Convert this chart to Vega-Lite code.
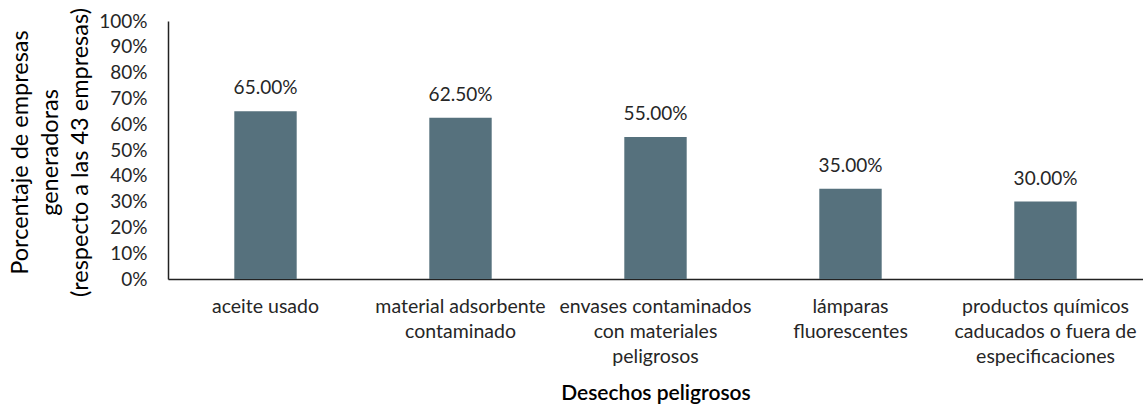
{
  "$schema": "https://vega.github.io/schema/vega-lite/v6.json",
  "autosize": "none",
  "width": 975,
  "height": 258,
  "padding": {"left": 168, "top": 21, "right": 0, "bottom": 126},
  "background": "white",
  "config": {
    "view": {"stroke": null},
    "font": "Lato",
    "axis": {"grid": false}
  },
  "data": {
    "values": [
      {"desecho": "aceite usado", "pct": 0.65},
      {"desecho": "material adsorbente contaminado", "pct": 0.625},
      {"desecho": "envases contaminados con materiales peligrosos", "pct": 0.55},
      {"desecho": "lámparas fluorescentes", "pct": 0.35},
      {"desecho": "productos químicos caducados o fuera de especificaciones", "pct": 0.30}
    ]
  },
  "encoding": {
    "x": {
      "field": "desecho",
      "type": "nominal",
      "sort": null,
      "scale": {"paddingInner": 0.68, "paddingOuter": 0.34},
      "axis": {
        "title": "Desechos peligrosos",
        "titleFont": "Lato",
        "titleFontSize": 21,
        "titleFontWeight": 600,
        "titleColor": "#000000",
        "titleBaseline": "middle",
        "titleY": 114,
        "labelAngle": 0,
        "labelFont": "Lato",
        "labelFontSize": 19.5,
        "labelColor": "#262626",
        "labelPadding": 27,
        "labelLineHeight": 25,
        "labelBaseline": "middle",
        "labelLimit": 250,
        "labelOverlap": false,
        "ticks": false,
        "domainColor": "#222222",
        "domainWidth": 1.5,
        "labelExpr": "datum.value == 'material adsorbente contaminado' ? ['material adsorbente', 'contaminado'] : datum.value == 'envases contaminados con materiales peligrosos' ? ['envases contaminados', 'con materiales', 'peligrosos'] : datum.value == 'lámparas fluorescentes' ? ['lámparas', 'fluorescentes'] : datum.value == 'productos químicos caducados o fuera de especificaciones' ? ['productos químicos', 'caducados o fuera de', 'especificaciones'] : datum.value"
      }
    },
    "y": {
      "field": "pct",
      "type": "quantitative",
      "scale": {"domain": [0, 1], "nice": false},
      "axis": {
        "title": ["Porcentaje de empresas", "generadoras", "(respecto a las 43 empresas)"],
        "titleFont": "Lato",
        "titleFontSize": 23.5,
        "titleFontWeight": "normal",
        "titleColor": "#000000",
        "titleLineHeight": 30,
        "titleAlign": "center",
        "titleBaseline": "middle",
        "titleX": -148,
        "titleY": 131,
        "format": ".0%",
        "values": [0, 0.1, 0.2, 0.3, 0.4, 0.5, 0.6, 0.7, 0.8, 0.9, 1],
        "labelFont": "Lato",
        "labelFontSize": 19,
        "labelColor": "#262626",
        "labelPadding": 21,
        "labelOverlap": false,
        "ticks": false,
        "domainColor": "#222222",
        "domainWidth": 1.5
      }
    }
  },
  "layer": [
    {"mark": {"type": "bar", "color": "#56717D"}},
    {
      "mark": {"type": "text", "dy": -23, "baseline": "middle", "font": "Lato", "fontSize": 19, "color": "#262626"},
      "encoding": {"text": {"field": "pct", "type": "quantitative", "format": ".2%"}}
    }
  ]
}
